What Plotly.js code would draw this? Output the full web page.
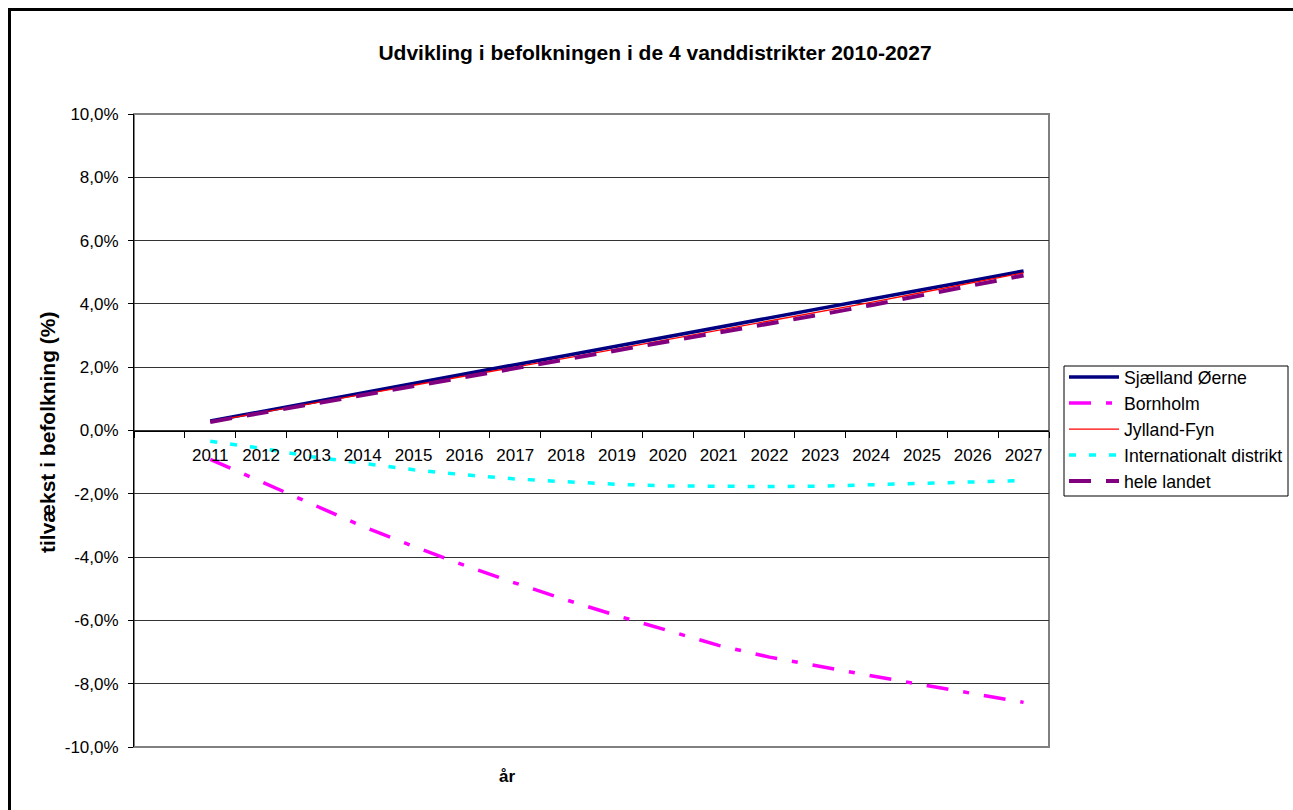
<!DOCTYPE html>
<html>
<head>
<meta charset="utf-8">
<script src="https://cdn.plot.ly/plotly-3.0.1.min.js"></script>
<style>
  html, body { margin: 0; padding: 0; background: #ffffff; overflow: hidden; }
  #chart { width: 1293px; height: 810px; }
</style>
</head>
<body>
<div id="chart"></div>
<script>
// ---- data ----
var years = [2011, 2012, 2013, 2014, 2015, 2016, 2017, 2018, 2019, 2020, 2021, 2022, 2023, 2024, 2025, 2026, 2027];
var yearLabels = ['2011', '2012', '2013', '2014', '2015', '2016', '2017', '2018', '2019', '2020', '2021', '2022', '2023', '2024', '2025', '2026', '2027'];
var seriesNames = ['Sjælland Øerne', 'Bornholm', 'Jylland-Fyn', 'Internationalt distrikt', 'hele landet'];
var sjaelland = [0.30, 0.60, 0.89, 1.19, 1.48, 1.78, 2.08, 2.37, 2.67, 2.96, 3.26, 3.56, 3.85, 4.15, 4.45, 4.74, 5.04];
var bornholm = [-0.91, -1.62, -2.35, -3.03, -3.66, -4.26, -4.82, -5.35, -5.85, -6.32, -6.79, -7.16, -7.46, -7.75, -8.03, -8.30, -8.59];
var jyllandFyn = [0.28, 0.56, 0.85, 1.14, 1.43, 1.71, 2.00, 2.29, 2.58, 2.87, 3.16, 3.45, 3.74, 4.05, 4.36, 4.67, 4.98];
var internationalt = [-0.34, -0.56, -0.83, -1.03, -1.24, -1.40, -1.53, -1.62, -1.70, -1.75, -1.77, -1.77, -1.76, -1.72, -1.68, -1.63, -1.58];
var heleLandet = [0.27, 0.55, 0.83, 1.11, 1.39, 1.67, 1.95, 2.23, 2.51, 2.80, 3.08, 3.37, 3.66, 3.96, 4.27, 4.58, 4.90];
var yTickVals = [-10, -8, -6, -4, -2, 0, 2, 4, 6, 8, 10];
var yTickText = ['-10,0%', '-8,0%', '-6,0%', '-4,0%', '-2,0%', '0,0%', '2,0%', '4,0%', '6,0%', '8,0%', '10,0%'];
var titleText = 'Udvikling i befolkningen i de 4 vanddistrikter 2010-2027';
var xTitleText = 'år';
var yTitleText = 'tilvækst i befolkning (%)';

// ---- chart ----
var FONT = 'Arial, "Liberation Sans", sans-serif';
var boundaries = [years[0] - 1.5].concat(years.map(function (y) { return y - 0.5; })).concat([years[years.length - 1] + 0.5]);

function mk(name, values, color, width, dash) {
  return {
    type: 'scatter', mode: 'lines', name: name,
    x: years, y: values,
    line: { color: color, width: width, dash: dash },
    hoverinfo: 'skip'
  };
}

var data = [
  mk(seriesNames[0], sjaelland, '#000080', 3.5, 'solid'),
  mk(seriesNames[1], bornholm, '#FF00FF', 3.5, '22px,15px,6px,15px'),
  mk(seriesNames[2], jyllandFyn, '#FF0000', 1.3, 'solid'),
  mk(seriesNames[3], internationalt, '#00FFFF', 3.5, '7px,13px'),
  mk(seriesNames[4], heleLandet, '#800080', 4, '22px,15px')
];

// pixel helpers for the 915x633 plot area (left 134, top 114)
function px(x) { return (x - 134) / 915; }
function py(y) { return (747 - y) / 633; }

var layout = {
  width: 1293, height: 810,
  paper_bgcolor: '#ffffff', plot_bgcolor: '#ffffff',
  margin: { l: 134, r: 244, t: 114, b: 63, autoexpand: false },
  font: { family: FONT, size: 17, color: '#000000' },
  title: {
    text: '<b>' + titleText + '</b>',
    font: { family: FONT, size: 21, color: '#000000' },
    xref: 'container', yref: 'container',
    x: 0.5066, y: 1 - 53 / 810, xanchor: 'center', yanchor: 'middle'
  },
  showlegend: true,
  legend: {
    x: px(1064), y: py(359),
    xanchor: 'left', yanchor: 'top',
    bgcolor: 'rgba(0,0,0,0)', borderwidth: 0,
    font: { family: FONT, size: 17.7, color: '#000000' },
    itemwidth: 50, tracegroupgap: 0
  },
  xaxis: {
    range: [years[0] - 1.5, years[years.length - 1] + 0.5],
    anchor: 'free', position: 0.5,
    tickmode: 'array', tickvals: years, ticktext: yearLabels,
    ticks: 'outside', ticklen: 9, tickcolor: 'rgba(0,0,0,0)',
    minor: { tickmode: 'array', tickvals: boundaries, ticks: 'outside', ticklen: 6, tickcolor: '#000000', tickwidth: 1, showgrid: false },
    showline: true, linecolor: '#000000', linewidth: 1,
    showgrid: false, zeroline: false,
    tickfont: { family: FONT, size: 17, color: '#000000' },
    fixedrange: true
  },
  yaxis: {
    range: [-10, 10],
    tickmode: 'array', tickvals: yTickVals, ticktext: yTickText,
    ticks: 'outside', ticklen: 5, tickcolor: '#000000', tickwidth: 1,
    showline: true, linecolor: '#000000', linewidth: 1,
    showgrid: true, gridcolor: '#333333', gridwidth: 1,
    zeroline: false,
    tickfont: { family: FONT, size: 17, color: '#000000' },
    ticklabelstandoff: 6,
    fixedrange: true
  },
  annotations: [
    {
      text: '<b>' + xTitleText + '</b>', xref: 'paper', yref: 'paper',
      x: px(507), y: py(776), xanchor: 'center', yanchor: 'middle',
      showarrow: false, font: { family: FONT, size: 17, color: '#000000' }
    },
    {
      text: '<b>' + yTitleText + '</b>', xref: 'paper', yref: 'paper',
      x: px(47), y: py(432), xanchor: 'center', yanchor: 'middle',
      textangle: -90,
      showarrow: false, font: { family: FONT, size: 21, color: '#000000' }
    }
  ],
  shapes: [
    {
      type: 'rect', xref: 'paper', yref: 'paper', layer: 'between',
      x0: 0, x1: 1, y0: 0, y1: 1,
      line: { color: '#808080', width: 2 }
    },
    {
      type: 'rect', xref: 'paper', yref: 'paper', layer: 'below',
      x0: px(1064), x1: px(1288), y0: py(496), y1: py(366),
      fillcolor: '#ffffff',
      line: { color: '#000000', width: 1 }
    },
    {
      type: 'rect', xref: 'paper', yref: 'paper', layer: 'above',
      x0: px(9.5), x1: px(1310),
      y0: py(830), y1: py(9.5),
      line: { color: '#000000', width: 3 }
    }
  ]
};

Plotly.newPlot('chart', data, layout, { staticPlot: true, displayModeBar: false });
</script>
</body>
</html>
